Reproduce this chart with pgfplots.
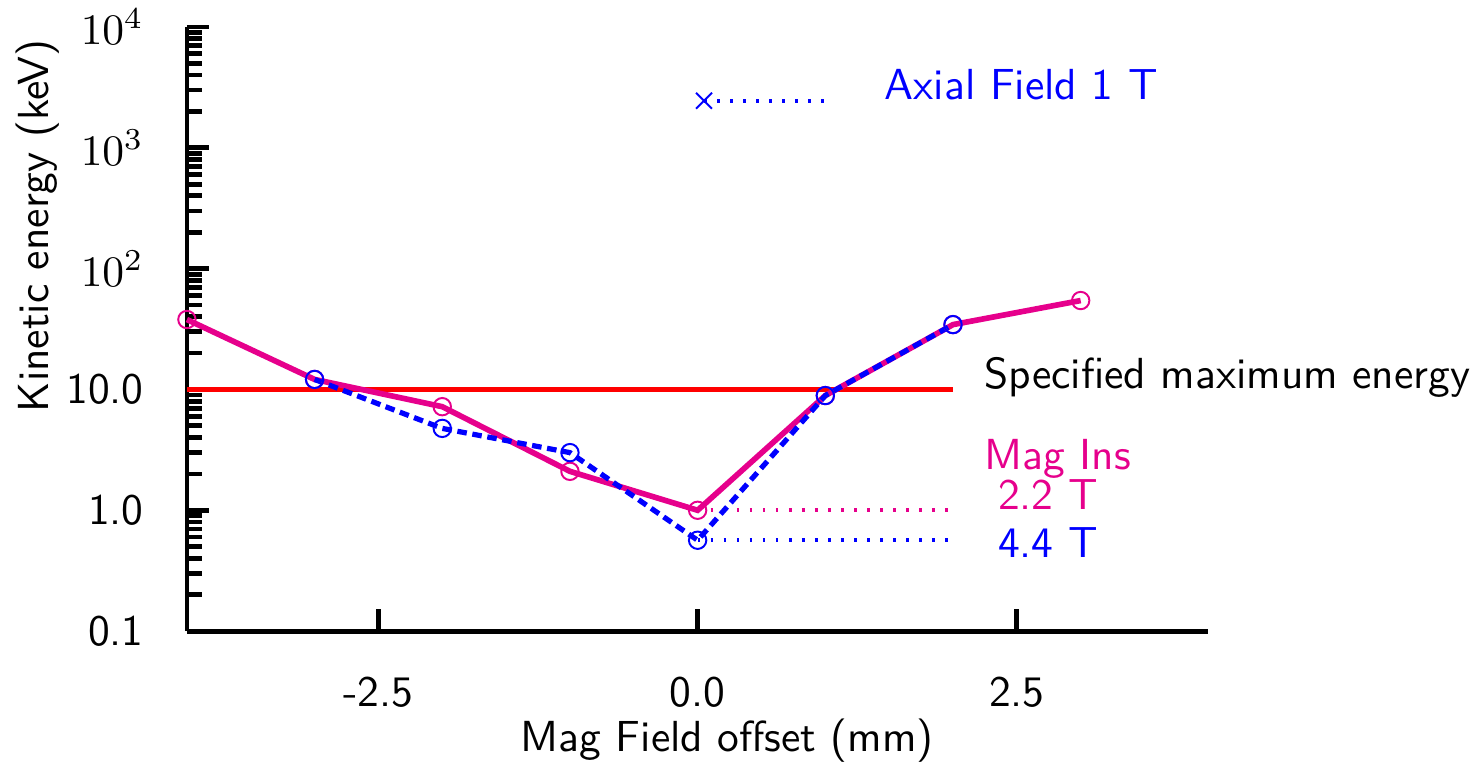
\documentclass[border=0pt]{standalone}
\usepackage{pgfplots}
\pgfplotsset{compat=1.18}
\renewcommand{\familydefault}{\sfdefault}
\definecolor{magins}{RGB}{230,0,140}

\begin{document}
\begin{tikzpicture}
    \begin{axis}[
            name=ax,
            scale only axis,
            width=235pt, height=139pt,
            ymode=log,
            xmin=-4, xmax=4,
            ymin=0.1, ymax=10000,
            axis lines*=left,
            axis line style={line width=1.1pt},
            xtick={-2.5,0,2.5},
            xticklabels={-2.5,0.0,2.5},
            ytick={0.1,1,10,100,1000,10000},
            yticklabels={0.1,1.0,10.0,$10^2$,$10^3$,$10^4$},
            minor ytick={0.2,0.3,0.4,0.5,0.6,0.7,0.8,0.9,
                2,3,4,5,6,7,8,9,20,30,40,50,60,70,80,90,
                200,300,400,500,600,700,800,900,
                2000,3000,4000,5000,6000,7000,8000,9000},
            tick align=inside,
            major tick length=5pt,
            minor tick length=3.5pt,
            every tick/.style={black, line width=1.1pt},
            xticklabel style={anchor=center, yshift=-14pt},
            yticklabel style={xshift=-6.4pt},
            xlabel={Mag Field offset (mm)},
            ylabel={Kinetic energy (keV)},
            xlabel style={at={(axis description cs:0.529,-0.182)}, anchor=center},
            ylabel style={at={(axis description cs:-0.146,0.671)}, anchor=center},
            clip=false
        ]
        \addplot[red, line width=1.3pt] coordinates {(-4,10) (2,10)};

        \addplot[magins, line width=0.9pt, dash pattern=on 0.6pt off 2.4pt] coordinates {(0,1.0) (2,1.0)};
        \addplot[blue, line width=0.9pt, dash pattern=on 0.6pt off 2.4pt] coordinates {(0,0.565) (2,0.565)};
        \addplot[blue, line width=0.9pt, dash pattern=on 0.6pt off 2.4pt] coordinates {(0.05,2450) (1,2450)};

        \addplot[magins, line width=1.3pt, mark=o, mark size=2pt,
            mark options={solid, line width=0.45pt}]
            coordinates {(-4,37.9) (-3,12.1) (-2,7.2) (-1,2.1) (0,1.0) (1,8.9) (2,34.4) (3,54.4)};
        \addplot[blue, line width=1.2pt, dash pattern=on 2.2pt off 1.3pt, mark=o, mark size=2pt,
            mark options={solid, line width=0.45pt}]
            coordinates {(-3,12.1) (-2,4.76) (-1,3.0) (0,0.565) (1,8.9) (2,34.4)};
        \addplot[blue, only marks, mark=x, mark size=2.6pt, mark options={line width=0.45pt}]
            coordinates {(0.05,2450)};

        \node[anchor=west, inner sep=0pt] at (axis cs:2.24,12.6) {Specified maximum energy};
        \node[anchor=west, inner sep=0pt, text=magins] at (axis cs:2.24,2.64) {Mag Ins};
        \node[anchor=east, inner sep=0pt, text=magins] at (axis cs:3.14,1.36) {2.2 T};
        \node[anchor=east, inner sep=0pt, text=blue] at (axis cs:3.14,0.544) {4.4 T};
        \node[anchor=west, inner sep=0pt, text=blue] at (axis cs:1.46,3300) {Axial Field 1 T};
    \end{axis}
    \pgfresetboundingbox
    \path ([shift={(-43pt,-30.1pt)}]ax.south west) rectangle ([shift={(60.2pt,6.2pt)}]ax.north east);
\end{tikzpicture}
\end{document}
